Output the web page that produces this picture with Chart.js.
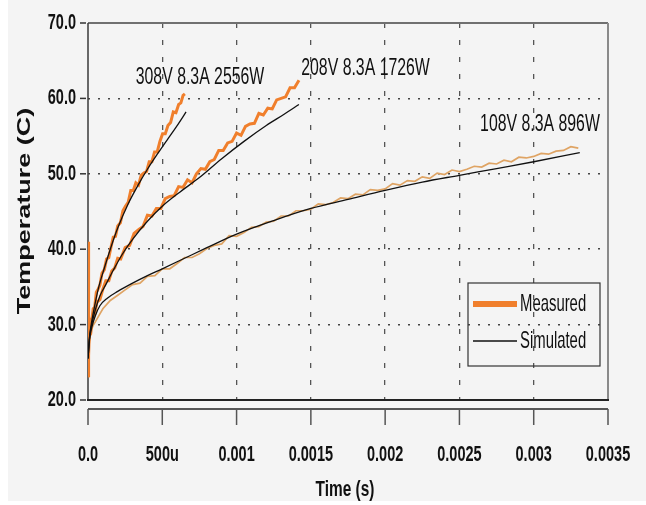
<!DOCTYPE html>
<html><head><meta charset="utf-8">
<script src="https://cdn.jsdelivr.net/npm/chart.js@4"></script>
<style>html,body{margin:0;padding:0;background:#fff}canvas{display:block}</style>
</head><body>
<canvas id="c" width="646" height="505"></canvas>
<script>
const xTickLabels = ['0.0','500u','0.001','0.0015','0.002','0.0025','0.003','0.0035'];
const yTickLabels = ['20.0','30.0','40.0','50.0','60.0','70.0'];
const seriesNames = ['Measured','Simulated'];
const annoLabels = ['308V 8.3A 2556W','208V 8.3A 1726W','108V 8.3A 896W'];
const annoTime = [0.000754, 0.001868, 0.003042];
const annoTemp = [62.8, 64.0, 56.6];

const t308m = [0,0.000002,0.000006,0.00001,0.000018,0.000026,0.000035,0.000045,0.000056,0.000068,0.00008,0.000094,0.00011,0.000125,0.00014,0.000155,0.00017,0.000185,0.0002,0.000218,0.000235,0.000252,0.00027,0.000288,0.000305,0.000322,0.00034,0.000358,0.000376,0.000394,0.000412,0.00043,0.000448,0.000466,0.000484,0.000502,0.00052,0.000538,0.000556,0.000574,0.000592,0.00061,0.000625,0.00064,0.000652];
const T308m = [41,23,27.5,29.5,30.7,30.7,32.1,32.3,34.3,34.7,35.2,36.8,37.3,38.7,38.9,40.3,41.6,41.7,43.1,43.5,45.1,45.7,46.2,47.8,47.8,48.8,48.5,49.8,50.1,50.3,51.6,51.6,52.9,52.9,54.3,55.3,55.3,56.4,56.8,58.2,58.1,59.2,59.4,60.4,60.6];
const t308s = [0,0.00001,0.00002,0.00004,0.00007,0.00011,0.00015,0.0002,0.00027,0.00034,0.0004,0.00047,0.00054,0.0006,0.00066];
const T308s = [25.5,28.3,29.8,32.0,34.8,37.5,40.0,42.8,46.0,48.6,50.6,52.7,54.7,56.4,58.2];

const t208m = [0,0.000008,0.000018,0.00003,0.000045,0.00006,0.00008,0.0001,0.00012,0.00014,0.00016,0.00018,0.0002,0.00022,0.00025,0.00028,0.00031,0.00034,0.00037,0.0004,0.00043,0.00046,0.00049,0.00052,0.00055,0.00058,0.00061,0.00064,0.00067,0.0007,0.00073,0.00076,0.00079,0.00082,0.00085,0.00088,0.00091,0.00094,0.00097,0.001,0.00103,0.00106,0.00109,0.00112,0.00115,0.00118,0.00121,0.00124,0.00127,0.0013,0.00133,0.00136,0.00139,0.00142];
const T208m = [24,28.5,28.8,30.8,31.3,33.0,33.3,34.7,35.8,35.8,37.1,37.5,38.8,38.7,40.2,40.5,42.1,42.6,43.0,44.5,44.4,45.4,45.4,46.7,47.0,47.1,48.3,48.2,49.2,48.8,50.0,50.7,50.6,51.6,51.9,53.1,53.1,54.1,54.3,55.4,55.1,56.3,56.6,56.7,58.0,57.8,58.7,58.6,59.8,60.0,60.2,61.4,61.4,62.4];
const t208s = [0,0.00001,0.000025,0.00005,0.00008,0.00012,0.00017,0.00023,0.0003,0.0004,0.0005,0.00062,0.00075,0.0009,0.00105,0.0012,0.00132,0.00142];
const T208s = [25.5,28.2,30.0,32.0,33.8,35.3,37.2,39.3,41.3,43.7,45.7,47.6,49.5,52.0,54.3,56.4,57.9,59.2];

const t108m = [0,0.000008,0.00002,0.000035,0.00005,0.0001,0.00015,0.0002,0.00025,0.0003,0.00035,0.0004,0.00045,0.0005,0.00055,0.0006,0.00065,0.0007,0.00075,0.0008,0.00085,0.0009,0.00095,0.001,0.00105,0.0011,0.00115,0.0012,0.00125,0.0013,0.00135,0.0014,0.00145,0.0015,0.00155,0.0016,0.00165,0.0017,0.00175,0.0018,0.00185,0.0019,0.00195,0.002,0.00205,0.0021,0.00215,0.0022,0.00225,0.0023,0.00235,0.0024,0.00245,0.0025,0.00255,0.0026,0.00265,0.0027,0.00275,0.0028,0.00285,0.0029,0.00295,0.003,0.00305,0.0031,0.00315,0.0032,0.00325,0.0033];
const T108m = [27,27.5,29.2,29.9,30.4,32.1,33.2,33.9,34.6,35.3,35.5,36.4,36.5,37.4,37.4,38.1,38.9,38.9,39.4,40.1,40.5,40.7,41.8,41.7,42.2,42.9,43.0,43.6,43.7,44.4,44.4,45.1,45.1,45.3,46.0,45.9,46.2,46.8,46.7,47.3,47.2,47.9,47.8,48.0,48.7,48.5,49.1,49.0,49.6,49.4,50.1,49.9,50.5,50.3,50.6,51.0,50.9,51.4,51.3,51.8,51.6,52.2,52.1,52.3,52.7,52.6,53.0,53.1,53.6,53.4];
const t108s = [0,0.00001,0.000025,0.00005,0.00008,0.00013,0.0002,0.0003,0.0004,0.0005,0.00065,0.0008,0.001,0.00125,0.0015,0.00175,0.002,0.00225,0.0025,0.00275,0.003,0.00331];
const T108s = [25.5,28.0,29.6,31.2,32.5,33.5,34.4,35.5,36.5,37.4,38.8,40.2,42.0,43.8,45.4,46.6,47.8,48.9,49.8,50.7,51.6,52.8];

const pts = (xs, ys) => xs.map((x, i) => ({x: x, y: ys[i]}));
const SQ = 0.66;
const FONT = '"Liberation Sans", Arial, sans-serif';

function sqText(ctx, str, x, y, font, sx, align, base, color) {
  ctx.save();
  ctx.translate(x, y);
  ctx.scale(sx, 1);
  ctx.font = font;
  ctx.textAlign = align;
  ctx.textBaseline = base;
  ctx.fillStyle = color;
  ctx.fillText(str, 0, 0);
  ctx.restore();
}
function line(ctx, x1, y1, x2, y2, color, w, dash) {
  ctx.save();
  ctx.strokeStyle = color; ctx.lineWidth = w; ctx.setLineDash(dash || []);
  ctx.beginPath(); ctx.moveTo(x1, y1); ctx.lineTo(x2, y2); ctx.stroke();
  ctx.restore();
}

const MEAS = '#f07f2c', MEAS108 = '#dfa464', SIM = '#111111';

const deco = {
  id: 'deco',
  beforeDraw(chart) {
    const c = chart.ctx;
    c.save();
    c.fillStyle = '#ffffff'; c.fillRect(0, 0, chart.width, chart.height);
    c.fillStyle = '#f4f4f4'; c.fillRect(8, 0, chart.width - 8, chart.height - 4);
    c.restore();
  },
  beforeDatasetsDraw(chart) {
    const c = chart.ctx, a = chart.chartArea;
    line(c, a.left, a.top, a.right, a.top, '#707070', 2);
    line(c, a.right, a.top, a.right, a.bottom, '#8a8a8a', 2);
    line(c, a.left, a.top, a.left, a.bottom, '#3a3a3a', 1.5);
    line(c, a.left - 1, a.bottom, a.right + 1, a.bottom, '#222', 2);
  },
  afterDraw(chart) {
    const c = chart.ctx, a = chart.chartArea;
    const xs = chart.scales.x, ys = chart.scales.y;
    const axY = a.bottom + 9;
    line(c, xs.getPixelForValue(xs.min), axY, xs.getPixelForValue(xs.max), axY, '#222', 1.5);
    xs.ticks.forEach((t, i) => {
      const px = xs.getPixelForValue(t.value);
      line(c, px, axY, px, axY + 16, '#555', 1.5);
      sqText(c, xTickLabels[i], px, 455, 'bold 22px ' + FONT, SQ, 'center', 'middle', '#111');
    });
    ys.ticks.forEach((t, i) => {
      const py = ys.getPixelForValue(t.value);
      line(c, a.left - 8, py, a.left - 2, py, '#333', 1.5);
      sqText(c, yTickLabels[i], a.left - 12, py, 'bold 22px ' + FONT, SQ, 'right', 'middle', '#111');
    });
    sqText(c, 'Time (s)', 345, 490, 'bold 22px ' + FONT, 0.7, 'center', 'middle', '#111');
    c.save();
    c.translate(25, 211);
    c.rotate(-Math.PI / 2);
    c.scale(1, 0.7);
    c.font = 'bold 27px ' + FONT;
    c.textAlign = 'center'; c.textBaseline = 'middle'; c.fillStyle = '#111';
    c.fillText('Temperature (C)', 0, 0);
    c.restore();
    annoLabels.forEach((s, i) => {
      sqText(c, s, xs.getPixelForValue(annoTime[i]), ys.getPixelForValue(annoTemp[i]),
        '24px ' + FONT, SQ, 'center', 'middle', '#111');
    });
    const bx = a.right - 140, by = a.bottom - 117, bw = 132, bh = 83;
    c.save(); c.strokeStyle = '#333'; c.lineWidth = 1.2; c.strokeRect(bx, by, bw, bh); c.restore();
    line(c, bx + 5, by + 21, bx + 49, by + 21, MEAS, 6);
    sqText(c, seriesNames[0], bx + 52, by + 21, '24px ' + FONT, 0.62, 'left', 'middle', '#111');
    line(c, bx + 5, by + 58, bx + 49, by + 58, SIM, 1.5);
    sqText(c, seriesNames[1], bx + 52, by + 58, '24px ' + FONT, 0.62, 'left', 'middle', '#111');
  }
};

const mk = (label, data, color, w, order, tension) => ({
  label: label, data: data, borderColor: color, borderWidth: w, pointRadius: 0,
  tension: tension, cubicInterpolationMode: tension ? 'monotone' : 'default',
  order: order, fill: false
});

new Chart(document.getElementById('c'), {
  type: 'line',
  data: {
    datasets: [
      mk(seriesNames[0], pts(t108m, T108m), MEAS108, 1.7, 3, 0),
      mk(seriesNames[0], pts(t208m, T208m), MEAS, 3, 2, 0),
      mk(seriesNames[0], pts(t308m, T308m), MEAS, 3, 2, 0),
      mk(seriesNames[1], pts(t108s, T108s), SIM, 1.3, 1, 0.4),
      mk(seriesNames[1], pts(t208s, T208s), SIM, 1.3, 1, 0.4),
      mk(seriesNames[1], pts(t308s, T308s), SIM, 1.3, 1, 0.4)
    ]
  },
  options: {
    responsive: false, animation: false, devicePixelRatio: 1,
    layout: { padding: { left: 88, right: 38, top: 23, bottom: 105 } },
    plugins: { legend: { display: false }, tooltip: { enabled: false } },
    scales: {
      x: {
        type: 'linear', min: 0, max: 0.0035,
        ticks: { stepSize: 0.0005, display: false },
        grid: {
          drawTicks: false, lineWidth: 1.3,
          color: ctx => (ctx.index === 0 || ctx.index === xTickLabels.length - 1) ? 'rgba(0,0,0,0)' : '#555'
        },
        border: { display: false, dash: [5, 12] },
        afterFit: s => { s.height = 0; }
      },
      y: {
        type: 'linear', min: 20, max: 70,
        ticks: { stepSize: 10, display: false },
        grid: {
          drawTicks: false, lineWidth: 1.6,
          color: ctx => (ctx.index === 0 || ctx.index === yTickLabels.length - 1) ? 'rgba(0,0,0,0)' : '#444'
        },
        border: { display: false, dash: [2, 8] },
        afterFit: s => { s.width = 0; }
      }
    }
  },
  plugins: [deco]
});
</script>
</body></html>
